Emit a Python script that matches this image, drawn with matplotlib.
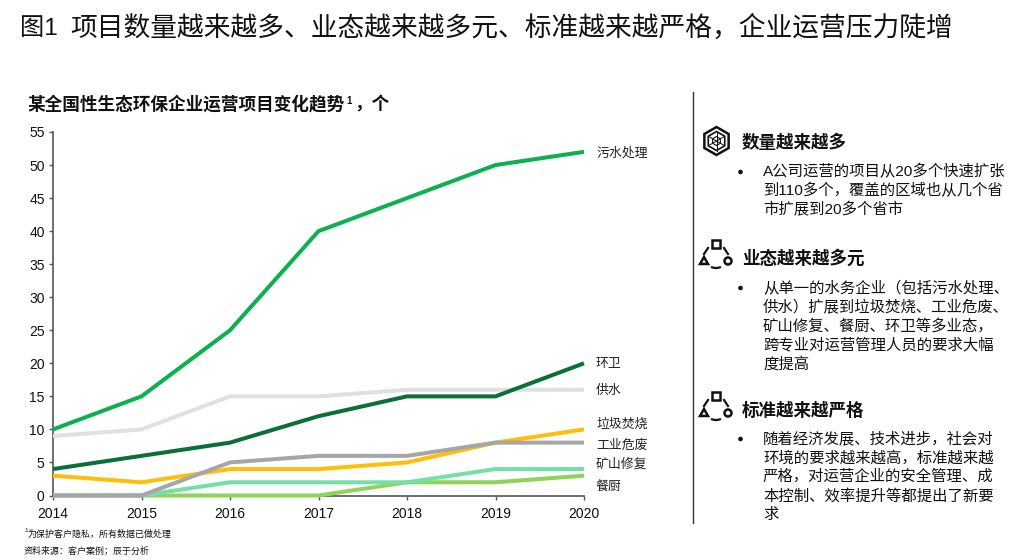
import matplotlib
matplotlib.use("Agg")
import matplotlib.pyplot as plt
from matplotlib.patches import RegularPolygon, Circle, Rectangle, Arc, Polygon
from matplotlib.lines import Line2D

plt.rcParams['font.family'] = ['Liberation Sans', 'Noto Sans CJK SC', 'DejaVu Sans']

years = [2014, 2015, 2016, 2017, 2018, 2019, 2020]
wushui = [10, 15, 25, 40, 45, 50, 52]
gongshui = [9, 10, 15, 15, 16, 16, 16]
huanwei = [4, 6, 8, 12, 15, 15, 20]
lajifenshao = [3, 2, 4, 4, 5, 8, 10]
canchu = [0, 0, 0, 0, 2, 2, 3]
kuangshan = [0, 0, 2, 2, 2, 4, 4]
gongye = [0, 0, 5, 6, 6, 8, 8]
yticks = list(range(0, 60, 5))

series = [
    ("污水处理", wushui, "#0DB04F", 52),
    ("供水", gongshui, "#E0E0E0", 16),
    ("环卫", huanwei, "#0A7038", 20.1),
    ("垃圾焚烧", lajifenshao, "#FFBE0A", 11),
    ("餐厨", canchu, "#8FD35A", 1.6),
    ("矿山修复", kuangshan, "#74E0A8", 4.9),
    ("工业危废", gongye, "#A6A6A6", 7.8),
]

W, H = 1024, 560
fig = plt.figure(figsize=(W / 100, H / 100), dpi=100, facecolor="white")

ax = fig.add_axes([53 / W, 1 - 495.5 / H, 531 / W, 363.5 / H])
for name, vals, col, ly in series:
    ax.plot(years, vals, color=col, lw=2.9, solid_capstyle="butt",
            solid_joinstyle="miter", clip_on=False, zorder=3)
    ax.annotate(name, (2020, ly), xytext=(12, -1.5), textcoords="offset pixels",
                fontsize=9.3, va="center", ha="left", color="#222222")
ax.set_xlim(2014, 2020)
ax.set_ylim(0, 55)
ax.set_xticks(years)
ax.set_yticks(yticks)
ax.tick_params(axis="both", labelsize=10, length=3, width=1, color="#555555",
               labelcolor="#111111", pad=3)
ax.tick_params(axis="x", pad=5)
for s in ("top", "right"):
    ax.spines[s].set_visible(False)
for s in ("left", "bottom"):
    ax.spines[s].set_color("#555555")
    ax.spines[s].set_linewidth(1.2)
ax.set_zorder(2)

ov = fig.add_axes([0, 0, 1, 1], facecolor="none")
ov.set_xlim(0, W)
ov.set_ylim(H, 0)
ov.axis("off")
ov.set_zorder(3)


def put(x, y, s, size, weight="normal", color="#111111"):
    ov.text(x, y, s, fontsize=size, fontweight=weight, color=color, va="center", ha="left")


put(20, 29, "图1", 17.5)
put(70, 29, "项目数量越来越多、业态越来越多元、标准越来越严格，企业运营压力陡增", 19.25)
put(27, 105, "某全国性生态环保企业运营项目变化趋势", 12.7, "bold")
put(346, 101, "1", 7, "bold")
put(354, 105, "，个", 12.7, "bold")
put(24, 531, "1", 4.5)
put(28, 534, "为保护客户隐私，所有数据已做处理", 6.45)
put(24, 551, "资料来源：客户案例；辰于分析", 6.45)

ov.add_line(Line2D([693, 693], [92, 523], color="#333333", lw=1))

put(742, 142, "数量越来越多", 12.6, "bold")
put(742, 258, "业态越来越多元", 12.6, "bold")
put(742, 410, "标准越来越严格", 12.6, "bold")

blocks = [
    (172, ["A公司运营的项目从20多个快速扩张", "到110多个，覆盖的区域也从几个省", "市扩展到20多个省市"]),
    (288, ["从单一的水务企业（包括污水处理、", "供水）扩展到垃圾焚烧、工业危废、", "矿山修复、餐厨、环卫等多业态，",
           "跨专业对运营管理人员的要求大幅", "度提高"]),
    (439, ["随着经济发展、技术进步，社会对", "环境的要求越来越高，标准越来越", "严格，对运营企业的安全管理、成",
           "本控制、效率提升等都提出了新要", "求"]),
]
for y0, lines in blocks:
    ov.add_patch(Circle((740.5, y0), 1.6, color="#111111"))
    for i, ln in enumerate(lines):
        put(763, y0 + i * 19, ln, 11.1)

# hexagon icon
cx, cy = 716.5, 141
for r, lw in ((14, 1.8), (9.5, 1.2)):
    ov.add_patch(RegularPolygon((cx, cy), 6, radius=r, fill=False, ec="#111111", lw=lw))
for a, b in (((0, -9.5), (0, 9.5)), ((-8.2, -4.75), (8.2, 4.75)), ((-8.2, 4.75), (8.2, -4.75))):
    ov.add_line(Line2D([cx + a[0], cx + b[0]], [cy + a[1], cy + b[1]], color="#111111", lw=0.7))
ov.add_patch(RegularPolygon((cx, cy), 6, radius=4.5, fill=False, ec="#111111", lw=0.8))


# cycle icons
def cycle(cx, cy):
    k = "#111111"
    ov.add_patch(Rectangle((cx - 4, cy - 15), 8, 8, fill=False, ec=k, lw=1.8))
    ov.add_patch(Polygon([(cx - 16, cy + 9), (cx - 8, cy + 9), (cx - 12, cy + 2)],
                         fill=False, ec=k, lw=1.8))
    ov.add_patch(Circle((cx + 12, cy + 6), 3.5, fill=False, ec=k, lw=1.8))
    ov.add_line(Line2D([cx - 12, cx - 8], [cy - 1, cy - 7], color=k, lw=1.6))
    ov.add_line(Line2D([cx + 8, cx + 12], [cy - 7, cy - 1], color=k, lw=1.6))
    ov.add_patch(Arc((cx, cy + 9), 14, 8, theta1=30, theta2=150, ec=k, lw=1.6))


cycle(716, 255)
cycle(716, 407)

fig.savefig("out.png", dpi=100)
